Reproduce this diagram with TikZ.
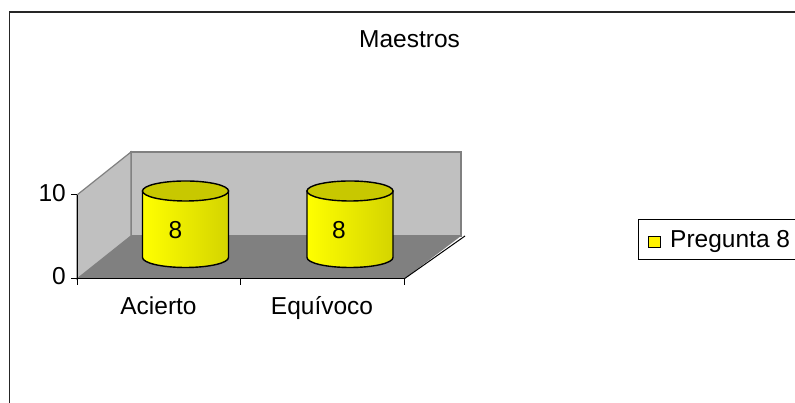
\documentclass[tikz,border=0pt]{standalone}
\usepackage{fontspec}
\setmainfont{Liberation Sans}
\definecolor{wallgray}{RGB}{192,192,192}
\definecolor{floorgray}{RGB}{128,128,128}
\definecolor{topyellow}{RGB}{200,200,0}
\definecolor{sideyellow}{RGB}{212,212,0}
\begin{document}
\begin{tikzpicture}[x=1pt,y=1pt]
				\tikzstyle{every node}=[inner sep=0pt,font=\fontsize{24.5}{29}\selectfont]
				\tikzstyle{wall}=[fill=wallgray,draw=floorgray,line width=1.2pt]
				\tikzstyle{axis}=[draw=black,line width=1pt]
				\tikzstyle{barbody}=[left color=yellow,right color=sideyellow,draw=black,line width=1.4pt]
				\tikzstyle{bartop}=[fill=topyellow,draw=black,line width=1.4pt]
				\useasboundingbox (0,0) rectangle (795,403);
				\fill[white] (0,0) rectangle (795,403);
				% chart frame
				\draw[line width=1.6pt,draw=black!85] (9.5,-20) -- (9.5,391) -- (820,391);
				\node[anchor=base] (title) at (409.5,355) {Maestros};
				% walls and floor
				\draw[wall] (131,167) rectangle (461,251);
				\draw[wall] (77,124) -- (77,208) -- (131,251) -- (131,167) -- cycle;
				\fill[floorgray] (77,124) -- (404,124) -- (461,167) -- (131,167) -- cycle;
				\draw[axis] (404,124) -- (465,167);
				\draw[axis] (77,118) -- (77,208);
				\draw[axis] (71,208) -- (77,208);
				\draw[axis] (71,124) -- (404,124);
				\draw[axis] (240,124) -- (240,118);
				\draw[axis] (404,124) -- (404,118);
				\node[anchor=base east] (ten) at (66,201) {10};
				\node[anchor=base east] (zero) at (66,118) {0};
				\node[anchor=base] (acierto) at (158.5,88) {Acierto};
				\node[anchor=base] (equivoco) at (322,88) {Equívoco};
				% cylinders
				\foreach \cx/\lx [count=\i] in {185.5/175.5, 350/339}
				{
					\draw[barbody] (\cx-43,212) -- (\cx-43,145.5)
						arc[start angle=180,end angle=360,x radius=43,y radius=10]
						-- (\cx+43,212) -- cycle;
					\draw[bartop] (\cx,212) ellipse [x radius=43,y radius=10];
					\node (val\i) at (\lx,173) {8};
				}
				% legend
				\draw[line width=1pt] (820,143) -- (638,143) -- (638,183) -- (820,183);
				\draw[fill=yellow,draw=black,line width=1pt] (648,155) rectangle (660,166);
				\node[anchor=base west] (serie) at (670,155) {Pregunta 8};
\end{tikzpicture}
\end{document}
